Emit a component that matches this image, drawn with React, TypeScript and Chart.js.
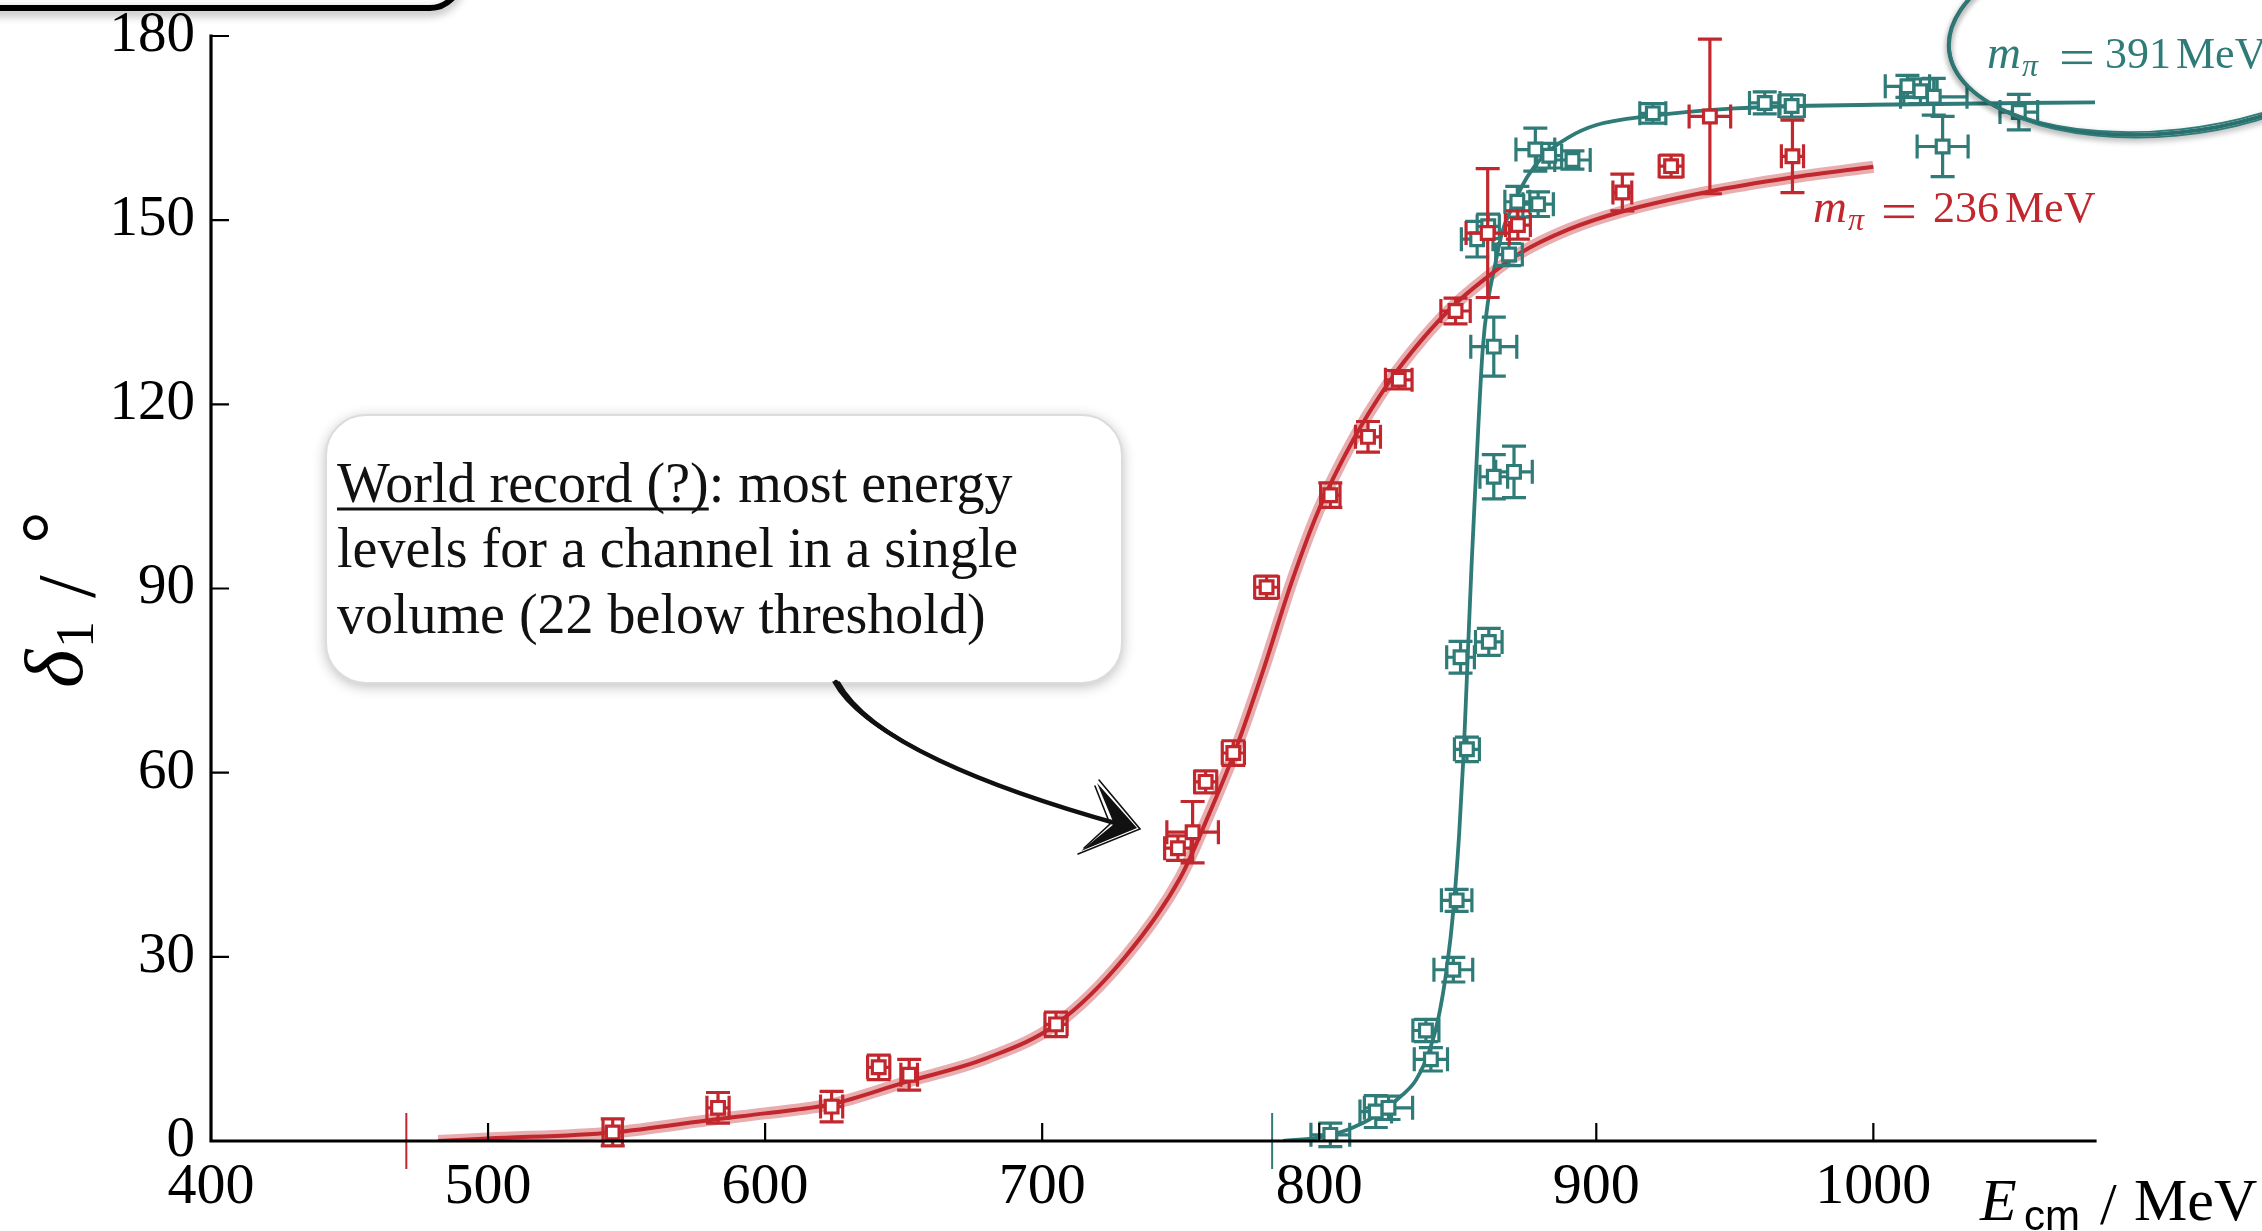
import { useEffect, useRef } from "react";
import { Chart, registerables } from "chart.js";

Chart.register(...registerables);

const RED = "#c1272d";
const RED_BAND = "rgba(193, 39, 45, 0.38)";
const TEAL = "#2e7b78";
const SERIF = '"Liberation Serif", "Times New Roman", serif';

// axes
const xTicks = [400, 500, 600, 700, 800, 900, 1000];
const yTicks = [0, 30, 60, 90, 120, 150, 180];
const xRange = [400, 1080];
const yRange = [0, 180];

// thresholds 2 m_pi (MeV) as drawn: [m_pi = 236, m_pi = 391]
const thresholdE = [470.5, 783];

// m_pi = 236 MeV lattice points
const red236E = [545, 583, 624, 641, 652, 705, 749, 754.3, 759, 769, 781, 804, 817.6, 828.7, 849.2, 860.8, 871.7, 909.4, 927, 941, 970.8];
const red236Delta = [1.4, 5.4, 5.6, 12, 10.8, 19, 47.7, 50.3, 58.5, 63.2, 90.2, 105.2, 114.7, 124, 135.2, 147.9, 149.2, 154.5, 158.8, 166.9, 160.4];
const red236EErr = [3.5, 4, 4, 4, 3, 4, 4.8, 9.3, 4, 4, 4.3, 3.5, 4.5, 4.8, 5.3, 7.8, 4.5, 3.4, 4.3, 7.5, 4];
const red236DeltaErr = [2.2, 2.5, 2.5, 2, 2.5, 2, 2, 5, 1.8, 2, 1.8, 2, 2.5, 1.5, 2.1, 10.5, 2.3, 3, 1.8, 12.6, 5.9];

// m_pi = 391 MeV lattice points
const teal391E = [804, 820.4, 825, 838.5, 840.3, 848.4, 849.6, 853.3, 851, 861.2, 863, 870.3, 863, 857, 861, 868.5, 871.5, 879, 878, 883, 891.4, 920.4, 960.8, 970.5, 1012.3, 1017, 1021.8, 1025, 1052.5];
const teal391Delta = [1, 4.8, 5.4, 18, 13.3, 27.9, 39.2, 63.8, 78.8, 81.3, 108.2, 109, 129.4, 146.9, 149, 144.4, 153, 152.6, 161.5, 160.5, 159.8, 167.4, 169.1, 168.6, 171.8, 171, 170.1, 162, 167.6];
const teal391EErr = [7, 5.7, 8.7, 4.7, 6, 7, 5.5, 4.5, 5, 4.8, 5, 6.6, 8.3, 5.7, 4, 4.8, 4.5, 5.5, 7, 4.5, 6.4, 4.7, 5.5, 4.6, 8, 6, 12, 9.2, 6.8];
const teal391DeltaErr = [1.9, 2.6, 1.9, 1.8, 1.9, 2, 1.8, 2, 2.6, 2.2, 3.6, 4.2, 4.8, 2.9, 2, 1.8, 2.5, 2, 3.5, 2, 1.5, 1.6, 1.8, 1.8, 1.8, 2, 3, 4.9, 2.9];

// fit curves
const red236FitE = [482, 500, 545, 583, 600, 624, 650, 680, 705, 730, 750, 760, 770, 780, 790, 800, 812, 825, 837, 849, 860, 872, 890, 910, 940, 970, 1000];
const red236FitDelta = [0, 0.4, 1.4, 3.6, 4.5, 6, 9.5, 13.5, 19, 30, 43, 53, 64, 77, 91, 103, 114, 123.5, 130.5, 136.3, 140.5, 144.5, 148.5, 151.5, 154.6, 156.9, 158.7];
const teal391FitE = [787, 800, 810, 820, 830, 835, 840, 843, 846, 848.5, 850.5, 852.2, 853.6, 855, 856.5, 859, 861, 863.6, 866, 869, 875, 881, 890, 900, 920, 950, 1000, 1080];
const teal391FitDelta = [0, 0.6, 1.8, 4, 7.5, 10, 15, 20, 28, 38, 50, 63.8, 79, 94, 108, 129, 137, 143, 148, 151.5, 157, 160.5, 163.5, 165.5, 167, 168.2, 168.8, 169.2];

const annotationLines = [
  "World record (?): most energy",
  "levels for a channel in a single",
  "volume (22 below threshold)",
];
const annotationUnderlined = "World record (?)";

const toXY = (xs: number[], ys: number[]) => xs.map((v, i) => ({ x: v, y: ys[i] }));

function drawErrorBars(chart: any, E: number[], D: number[], Ee: number[], De: number[], color: string) {
  const { ctx, scales } = chart;
  const sx = scales.x;
  const sy = scales.y;
  const c = 12;
  ctx.save();
  ctx.strokeStyle = color;
  ctx.lineWidth = 3.2;
  ctx.beginPath();
  for (let i = 0; i < E.length; i++) {
    const px = sx.getPixelForValue(E[i]);
    const py = sy.getPixelForValue(D[i]);
    const x0 = sx.getPixelForValue(E[i] - Ee[i]);
    const x1 = sx.getPixelForValue(E[i] + Ee[i]);
    const y0 = sy.getPixelForValue(D[i] - De[i]);
    const y1 = sy.getPixelForValue(D[i] + De[i]);
    ctx.moveTo(x0, py); ctx.lineTo(x1, py);
    ctx.moveTo(px, y0); ctx.lineTo(px, y1);
    ctx.moveTo(x0, py - c); ctx.lineTo(x0, py + c);
    ctx.moveTo(x1, py - c); ctx.lineTo(x1, py + c);
    ctx.moveTo(px - c, y0); ctx.lineTo(px + c, y0);
    ctx.moveTo(px - c, y1); ctx.lineTo(px + c, y1);
  }
  ctx.stroke();
  ctx.restore();
}

function drawMLabel(ctx: CanvasRenderingContext2D, x: number, base: number, value: string, color: string, pos: number[]) {
  ctx.save();
  ctx.fillStyle = color;
  ctx.textBaseline = "alphabetic";
  ctx.textAlign = "left";
  ctx.font = `italic 47px ${SERIF}`;
  ctx.fillText("m", x + pos[0], base);
  ctx.font = `italic 32px ${SERIF}`;
  ctx.fillText("π", x + pos[1], base + 8);
  // wide math "=" sign
  ctx.fillRect(x + pos[2], base - 17, 30, 2.6);
  ctx.fillRect(x + pos[2], base - 6.5, 30, 2.6);
  ctx.font = `44px ${SERIF}`;
  ctx.fillText(value, x + pos[3], base);
  ctx.fillText("MeV", x + pos[4], base);
  ctx.restore();
}

const decor = {
  id: "decor",
  beforeDatasetsDraw(chart: any) {
    const { ctx, scales } = chart;
    const sx = scales.x;
    const sy = scales.y;
    ctx.save();
    ctx.lineWidth = 2;
    thresholdE.forEach((e, i) => {
      const px = sx.getPixelForValue(e);
      ctx.strokeStyle = i === 0 ? RED : TEAL;
      ctx.beginPath();
      ctx.moveTo(px, sy.bottom - 28);
      ctx.lineTo(px, sy.bottom + 28);
      ctx.stroke();
    });
    ctx.restore();
  },
  beforeDatasetDraw(chart: any, args: any) {
    if (args.index === 0) drawErrorBars(chart, red236E, red236Delta, red236EErr, red236DeltaErr, RED);
    if (args.index === 1) drawErrorBars(chart, teal391E, teal391Delta, teal391EErr, teal391DeltaErr, TEAL);
  },
  afterDatasetsDraw(chart: any) {
    const { ctx, scales } = chart;
    const sx = scales.x;
    const sy = scales.y;
    const left = sx.left;
    const right = sx.right;
    const top = sy.top;
    const bottom = sy.bottom;
    ctx.save();
    ctx.strokeStyle = "#000";
    ctx.lineWidth = 3.2;
    ctx.lineCap = "square";
    ctx.beginPath();
    ctx.moveTo(left, top);
    ctx.lineTo(left, bottom);
    ctx.lineTo(right, bottom);
    ctx.stroke();
    ctx.lineCap = "butt";
    ctx.lineWidth = 2.2;
    ctx.beginPath();
    yTicks.forEach((v) => {
      if (v === yRange[0]) return;
      const py = sy.getPixelForValue(v);
      ctx.moveTo(left, py);
      ctx.lineTo(left + 18, py);
    });
    xTicks.forEach((v) => {
      if (v === xRange[0]) return;
      const px = sx.getPixelForValue(v);
      ctx.moveTo(px, bottom);
      ctx.lineTo(px, bottom - 18);
    });
    ctx.stroke();
    ctx.restore();
  },
  afterDraw(chart: any) {
    const ctx: CanvasRenderingContext2D = chart.ctx;

    // top-left box (cut off by the top edge)
    ctx.save();
    ctx.shadowColor = "rgba(0,0,0,0.35)";
    ctx.shadowBlur = 10;
    ctx.shadowOffsetY = 4;
    ctx.strokeStyle = "#000";
    ctx.lineWidth = 6;
    ctx.beginPath();
    (ctx as any).roundRect(-60, -300, 520, 308, 30);
    ctx.stroke();
    ctx.restore();

    // annotation box
    ctx.save();
    ctx.shadowColor = "rgba(0,0,0,0.28)";
    ctx.shadowBlur = 14;
    ctx.shadowOffsetY = 3;
    ctx.fillStyle = "#fff";
    ctx.beginPath();
    (ctx as any).roundRect(326, 415, 796, 268, 40);
    ctx.fill();
    ctx.restore();
    ctx.save();
    ctx.strokeStyle = "#dcdcdc";
    ctx.lineWidth = 2;
    ctx.beginPath();
    (ctx as any).roundRect(326, 415, 796, 268, 40);
    ctx.stroke();
    ctx.fillStyle = "#111";
    ctx.font = `56px ${SERIF}`;
    ctx.textBaseline = "alphabetic";
    ctx.textAlign = "left";
    const baseY = [502, 567, 633];
    annotationLines.forEach((t, i) => ctx.fillText(t, 337, baseY[i]));
    const uw = ctx.measureText(annotationUnderlined).width;
    ctx.strokeStyle = "#111";
    ctx.lineWidth = 3;
    ctx.beginPath();
    ctx.moveTo(337, 509);
    ctx.lineTo(337 + uw, 509);
    ctx.stroke();
    ctx.restore();

    // sketchy arrow
    ctx.save();
    ctx.strokeStyle = "#111";
    ctx.lineCap = "round";
    const offs = [0, 1.8, -1.6, 3.2, -2.8];
    offs.forEach((o, k) => {
      ctx.lineWidth = k === 0 ? 4.5 : 1.6;
      ctx.beginPath();
      ctx.moveTo(836 + o, 682);
      ctx.bezierCurveTo(866 + o, 738, 985 + o, 787 + o * 0.6, 1122, 825);
      ctx.stroke();
    });
    ctx.fillStyle = "#111";
    ctx.beginPath();
    ctx.moveTo(1137, 828);
    ctx.lineTo(1097, 783);
    ctx.lineTo(1114, 824);
    ctx.lineTo(1081, 851);
    ctx.closePath();
    ctx.fill();
    ctx.lineWidth = 1.6;
    ctx.beginPath();
    ctx.moveTo(1099, 780);
    ctx.lineTo(1140, 829);
    ctx.lineTo(1078, 854);
    ctx.moveTo(1095, 786);
    ctx.lineTo(1110, 824);
    ctx.lineTo(1084, 848);
    ctx.stroke();
    ctx.restore();

    // series labels
    drawMLabel(ctx, 1987, 68, "391", TEAL, [0, 35, 75, 118, 189]);
    drawMLabel(ctx, 1813, 222, "236", RED, [0, 35, 71, 120, 192]);

    // hand-drawn ellipse around the 391 label
    ctx.save();
    ctx.strokeStyle = TEAL;
    ctx.shadowColor = "rgba(0,0,0,0.3)";
    ctx.shadowBlur = 6;
    ctx.shadowOffsetY = 3;
    const ell = [
      [2168, 28, 220, 105, -0.1, 4],
      [2169, 27, 222, 103, -0.108, 1.8],
      [2167, 29, 218, 107, -0.094, 1.8],
    ];
    ell.forEach(([cx, cy, rx, ry, rot, lw]) => {
      ctx.lineWidth = lw;
      ctx.beginPath();
      ctx.ellipse(cx, cy, rx, ry, rot, 0, Math.PI * 2);
      ctx.stroke();
    });
    ctx.restore();

    // axis titles
    ctx.save();
    ctx.fillStyle = "#000";
    ctx.textBaseline = "alphabetic";
    ctx.textAlign = "left";
    ctx.font = `italic 60px ${SERIF}`;
    ctx.fillText("E", 1980, 1220);
    ctx.font = `42px "Liberation Sans", "DejaVu Sans", sans-serif`;
    ctx.fillText("cm", 2024, 1230);
    ctx.font = `60px ${SERIF}`;
    ctx.fillText("/", 2100, 1224);
    ctx.fillText("MeV", 2134, 1220);
    ctx.restore();

    ctx.save();
    ctx.fillStyle = "#000";
    ctx.translate(82, 688);
    ctx.rotate(-Math.PI / 2);
    ctx.textBaseline = "alphabetic";
    ctx.textAlign = "left";
    ctx.font = `italic 82px ${SERIF}`;
    ctx.fillText("δ", 0, 0);
    ctx.font = `54px ${SERIF}`;
    ctx.fillText("1", 40, 11);
    ctx.font = `82px ${SERIF}`;
    ctx.fillText("/", 90, 12);
    ctx.fillText("°", 144, -4);
    ctx.restore();
  },
};

export default function App() {
  const ref = useRef<HTMLCanvasElement | null>(null);

  useEffect(() => {
    if (!ref.current) return;
    const chart = new Chart(ref.current, {
      type: "scatter",
      data: {
        datasets: [
          {
            label: "m_pi = 236 MeV",
            data: toXY(red236E, red236Delta),
            pointStyle: "rect",
            pointRadius: 9,
            pointBorderWidth: 3.2,
            pointBackgroundColor: "#fff",
            pointBorderColor: RED,
            showLine: false,
          },
          {
            label: "m_pi = 391 MeV",
            data: toXY(teal391E, teal391Delta),
            pointStyle: "rect",
            pointRadius: 9,
            pointBorderWidth: 3.2,
            pointBackgroundColor: "#fff",
            pointBorderColor: TEAL,
            showLine: false,
          },
          {
            label: "fit 236",
            data: toXY(red236FitE, red236FitDelta),
            showLine: true,
            pointRadius: 0,
            borderColor: RED,
            borderWidth: 4,
            cubicInterpolationMode: "monotone",
            fill: false,
          },
          {
            label: "fit 391",
            data: toXY(teal391FitE, teal391FitDelta),
            showLine: true,
            pointRadius: 0,
            borderColor: TEAL,
            borderWidth: 3.8,
            cubicInterpolationMode: "monotone",
            fill: false,
          },
          {
            label: "band 236",
            data: toXY(red236FitE, red236FitDelta),
            showLine: true,
            pointRadius: 0,
            borderColor: RED_BAND,
            borderWidth: 12,
            cubicInterpolationMode: "monotone",
            fill: false,
          },
        ] as any,
      },
      options: {
        responsive: false,
        animation: false,
        devicePixelRatio: 1,
        layout: { padding: { top: 36, right: 167, left: 0, bottom: 0 } },
        plugins: {
          legend: { display: false },
          tooltip: { enabled: false },
        },
        scales: {
          x: {
            type: "linear",
            min: xRange[0],
            max: xRange[1],
            grid: { display: false, drawTicks: false },
            border: { display: false },
            afterBuildTicks: (scale: any) => {
              scale.ticks = xTicks.map((v) => ({ value: v }));
            },
            afterFit: (scale: any) => {
              scale.height = 90;
              scale.paddingLeft = 0;
              scale.paddingRight = 0;
            },
            ticks: {
              color: "#000",
              font: { family: SERIF, size: 58 },
              padding: 12,
              maxRotation: 0,
              autoSkip: false,
              callback: (v: any) => String(v),
            },
          },
          y: {
            type: "linear",
            min: yRange[0],
            max: yRange[1],
            grid: { display: false, drawTicks: false },
            border: { display: false },
            afterBuildTicks: (scale: any) => {
              scale.ticks = yTicks.map((v) => ({ value: v }));
            },
            afterFit: (scale: any) => {
              scale.width = 211;
              scale.paddingTop = 0;
              scale.paddingBottom = 0;
            },
            ticks: {
              color: "#000",
              font: { family: SERIF, size: 57 },
              padding: 16,
              autoSkip: false,
              callback: (v: any) => String(v),
            },
          },
        },
      } as any,
      plugins: [decor],
    });
    return () => chart.destroy();
  }, []);

  return (
    <div style={{ position: "fixed", left: 0, top: 0, width: 2262, height: 1231, background: "#fff" }}>
      <canvas ref={ref} width={2262} height={1231} style={{ display: "block", width: 2262, height: 1231 }} />
    </div>
  );
}
